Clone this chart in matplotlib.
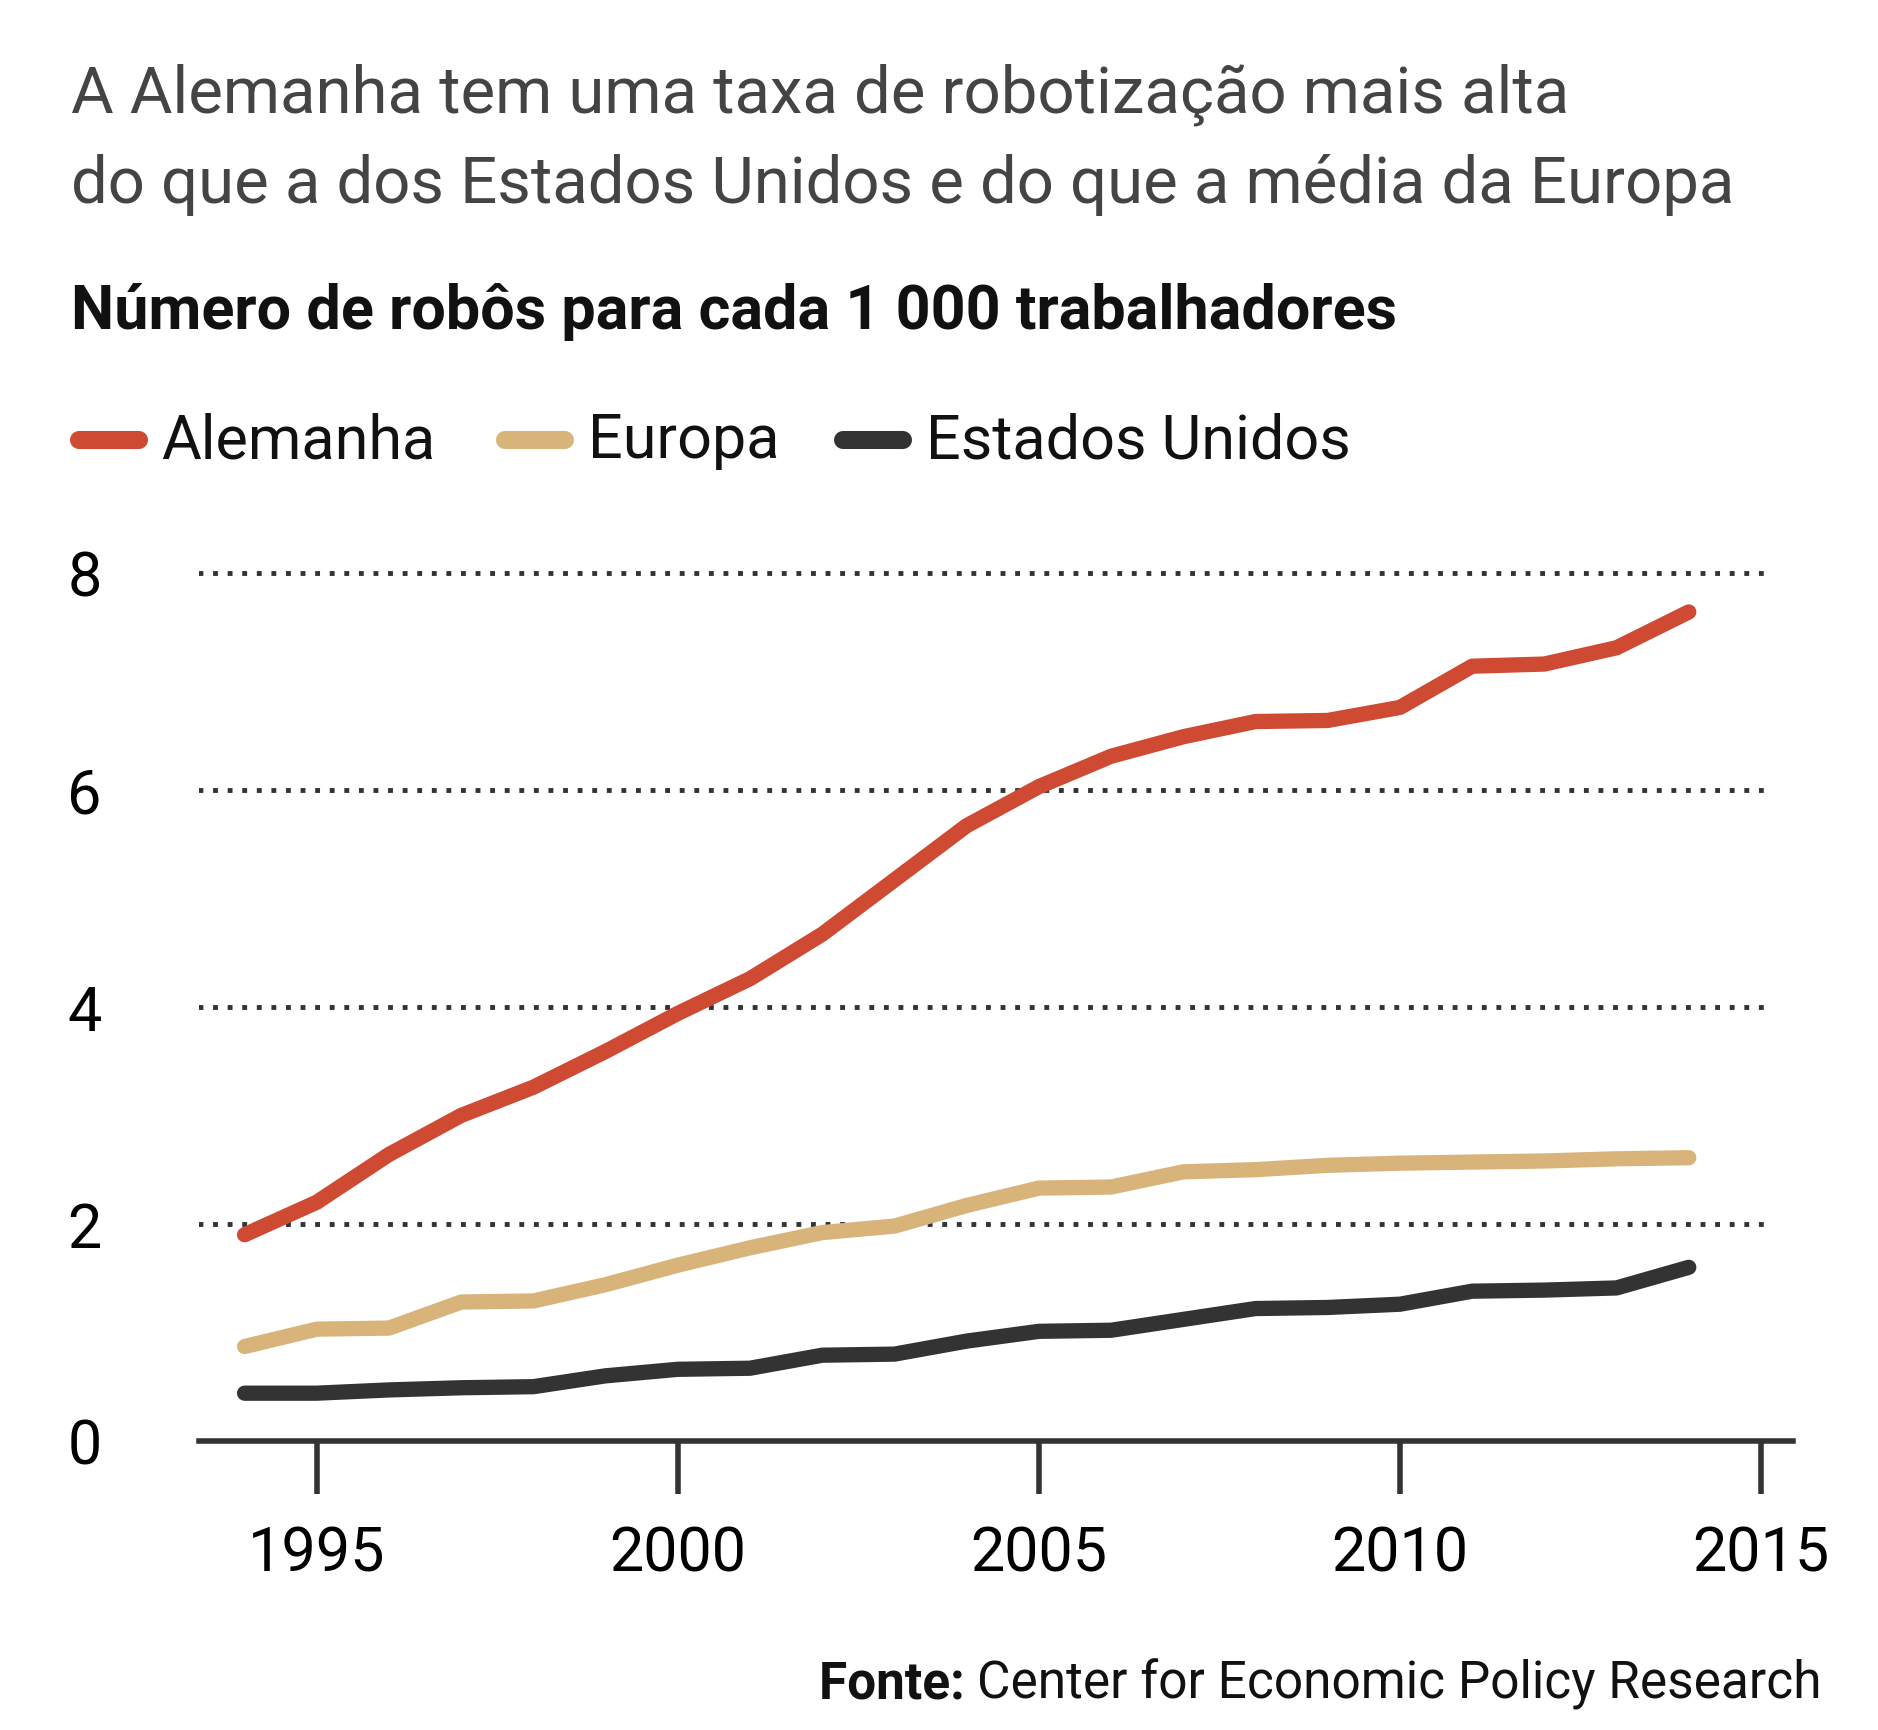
import matplotlib.pyplot as plt
from matplotlib import font_manager

names = {f.name for f in font_manager.fontManager.ttflist}
fam = 'Liberation Sans Narrow' if 'Liberation Sans Narrow' in names else 'Roboto'
plt.rcParams['font.family'] = [fam, 'DejaVu Sans']

years = list(range(1994, 2015))
alemanha = [1.9, 2.2, 2.64, 3.0, 3.26, 3.59, 3.94, 4.26, 4.67, 5.17, 5.67,
            6.03, 6.31, 6.49, 6.63, 6.64, 6.76, 7.14, 7.16, 7.31, 7.64]
europa = [0.87, 1.03, 1.04, 1.28, 1.29, 1.44, 1.62, 1.78, 1.92, 1.98, 2.17,
          2.33, 2.34, 2.48, 2.5, 2.54, 2.56, 2.57, 2.58, 2.6, 2.61]
eua = [0.44, 0.44, 0.47, 0.49, 0.5, 0.6, 0.66, 0.67, 0.79, 0.8, 0.92,
       1.01, 1.02, 1.12, 1.22, 1.23, 1.26, 1.38, 1.39, 1.41, 1.6]
yticks = [0, 2, 4, 6, 8]
xticks = [1995, 2000, 2005, 2010, 2015]

c_de, c_eu, c_us = '#cf4a32', '#d8b47a', '#333333'

fig = plt.figure(figsize=(18.78, 17.31), dpi=100)
ax = fig.add_axes([0.106, 0.167, 0.849, 0.514])

ax.hlines([2, 4, 6, 8], 1993.35, 2015.05, colors='#333333', linestyles=(0, (1, 2)), lw=3.5)
ax.plot(years, eua, color=c_us, lw=11, solid_capstyle='round')
ax.plot(years, europa, color=c_eu, lw=11, solid_capstyle='round')
ax.plot(years, alemanha, color=c_de, lw=11, solid_capstyle='round')

ax.set_xlim(1993.37, 2015.45)
ax.set_ylim(0, 8.2)
for s in ['top', 'right', 'left']:
    ax.spines[s].set_visible(False)
ax.spines['bottom'].set_linewidth(4)
ax.spines['bottom'].set_color('#333333')
ax.set_xticks(xticks)
ax.set_xticklabels([str(x) for x in xticks], fontsize=44)
ax.tick_params(axis='x', length=38, width=4, color='#333333', pad=22, direction='out')
ax.set_yticks(yticks)
ax.set_yticklabels([str(y) for y in yticks], fontsize=44)
ax.tick_params(axis='y', length=0, pad=70)

fig.text(0.038, 0.945, 'A Alemanha tem uma taxa de robotização mais alta', fontsize=47, color='#444444', va='center')
fig.text(0.038, 0.893, 'do que a dos Estados Unidos e do que a média da Europa', fontsize=47, color='#444444', va='center')
fig.text(0.038, 0.82, 'Número de robôs para cada 1 000 trabalhadores', fontsize=44, fontweight='bold', color='#111111', va='center')

ly = 0.745
items = [(0.038, c_de, 'Alemanha'), (0.265, c_eu, 'Europa'), (0.445, c_us, 'Estados Unidos')]
for x, c, t in items:
    fig.add_artist(plt.Line2D([x + 0.004, x + 0.036], [ly, ly], color=c, lw=13, solid_capstyle='round'))
    fig.text(x + 0.048, ly, t, fontsize=44, color='#111111', va='center')

src = fig.text(0.97, 0.027, 'Center for Economic Policy Research', fontsize=37, color='#111111', ha='right', va='center')
fig.canvas.draw()
r = src.get_window_extent()
fig.text(r.x0 / fig.bbox.width, 0.027, 'Fonte: ', fontsize=37, fontweight='bold', color='#111111', ha='right', va='center')

fig.savefig('out.png', dpi=100)
